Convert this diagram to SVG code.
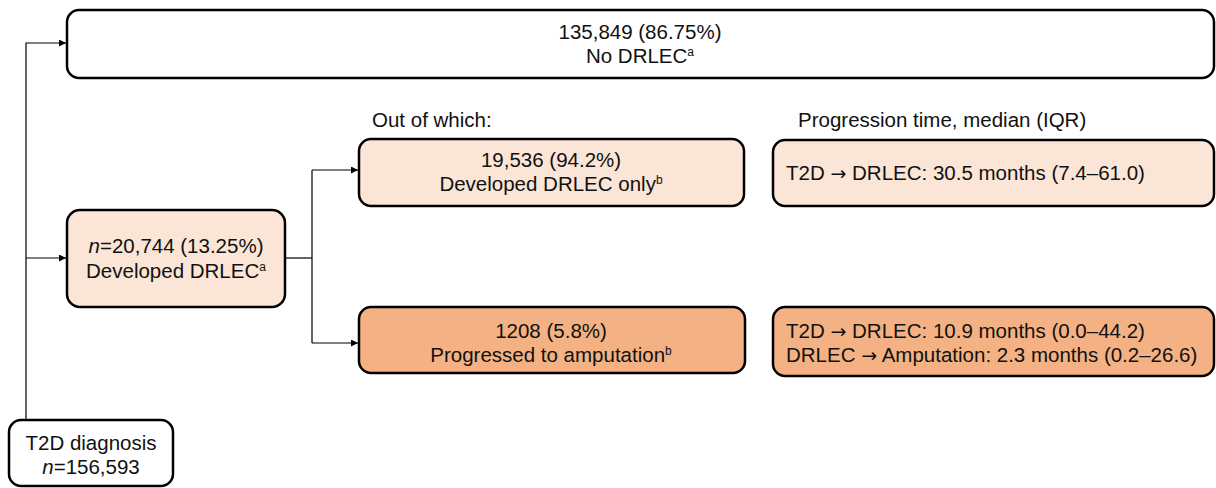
<svg xmlns="http://www.w3.org/2000/svg" width="1216" height="488" viewBox="0 0 1216 488">
<style>
text{font-family:"Liberation Sans",Arial,sans-serif;font-size:20.5px;fill:#111}
.box{stroke:#000;stroke-width:2.5}
.w{fill:#fff}
.l{fill:#fbe5d6}
.d{fill:#f4b183}
.c{text-anchor:middle}
.conn{stroke:#000;stroke-width:1.2;fill:none}
.sup{font-size:12px}
.ar{font-family:"DejaVu Sans",sans-serif;font-size:19px}
</style>
<defs>
<marker id="ah" viewBox="0 0 10 10" refX="10" refY="5" markerWidth="7" markerHeight="7" markerUnits="userSpaceOnUse" orient="auto">
<path d="M0,0 L10,5 L0,10 z" fill="#000"/>
</marker>
</defs>
<g id="connectors">
<path class="conn" d="M26,420 V43 H66" marker-end="url(#ah)"/>
<path class="conn" d="M26,258 H66" marker-end="url(#ah)"/>
<path class="conn" d="M286,258 H312"/>
<path class="conn" d="M312,170 V343"/>
<path class="conn" d="M312,170 H358" marker-end="url(#ah)"/>
<path class="conn" d="M312,343 H358" marker-end="url(#ah)"/>
</g>
<g id="no-drlec">
<rect class="box w" x="67" y="10" width="1147" height="68" rx="12"/>
<text class="c" x="640" y="39">135,849 (86.75%)</text>
<text class="c" x="640" y="63">No DRLEC<tspan class="sup" dy="-7">a</tspan></text>
</g>
<g id="developed-drlec">
<rect class="box l" x="67" y="210" width="218" height="97" rx="13"/>
<text class="c" x="176" y="253"><tspan font-style="italic">n</tspan>=20,744 (13.25%)</text>
<text class="c" x="176" y="278">Developed DRLEC<tspan class="sup" dy="-7">a</tspan></text>
</g>
<g id="t2d">
<rect class="box w" x="9" y="420" width="164" height="66" rx="12"/>
<text class="c" x="91" y="450">T2D diagnosis</text>
<text class="c" x="91" y="474"><tspan font-style="italic">n</tspan>=156,593</text>
</g>
<text x="372" y="127">Out of which:</text>
<text x="798" y="127">Progression time, median (IQR)</text>
<g id="drlec-only">
<rect class="box l" x="359" y="139" width="385" height="67" rx="12"/>
<text class="c" x="551" y="167">19,536 (94.2%)</text>
<text class="c" x="551" y="191">Developed DRLEC only<tspan class="sup" dy="-7">b</tspan></text>
</g>
<g id="amputation">
<rect class="box d" x="359" y="307" width="386" height="66" rx="12"/>
<text class="c" x="551" y="338">1208 (5.8%)</text>
<text class="c" x="551" y="362">Progressed to amputation<tspan class="sup" dy="-7">b</tspan></text>
</g>
<g id="time-only">
<rect class="box l" x="773" y="140" width="441" height="66" rx="12"/>
<text x="786" y="180">T2D <tspan class="ar">→</tspan> DRLEC: 30.5 months (7.4–61.0)</text>
</g>
<g id="time-amp">
<rect class="box d" x="773" y="307" width="441" height="69" rx="12"/>
<text x="786" y="338">T2D <tspan class="ar">→</tspan> DRLEC: 10.9 months (0.0–44.2)</text>
<text x="786" y="362">DRLEC <tspan class="ar">→</tspan> Amputation: 2.3 months (0.2–26.6)</text>
</g>
</svg>
